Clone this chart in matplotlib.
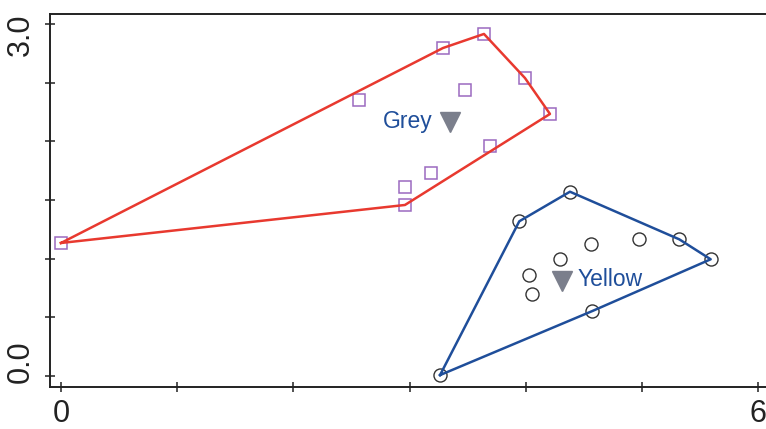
import numpy as np
import matplotlib
matplotlib.use("Agg")
import matplotlib.pyplot as plt
from matplotlib.transforms import offset_copy

plt.rcParams['font.family'] = ['Liberation Sans', 'DejaVu Sans']

# Group "Grey": point coordinates
grey_x = [0.00, 2.565, 3.287, 3.640, 3.993, 4.208, 3.477, 3.692, 3.184, 2.960, 2.960]
grey_y = [1.134, 2.353, 2.796, 2.916, 2.540, 2.234, 2.438, 1.961, 1.731, 1.611, 1.458]
grey_centroid = (3.344, 2.168)

# Group "Yellow": point coordinates
yellow_x = [3.262, 3.944, 4.380, 5.321, 5.591, 4.573, 4.564, 4.971, 4.291, 4.030, 4.053]
yellow_y = [0.008, 1.319, 1.571, 1.165, 0.995, 0.554, 1.123, 1.165, 0.995, 0.858, 0.697]
yellow_centroid = (4.314, 0.810)

x_ticks = [0, 1, 2, 3, 4, 5, 6]
x_ticklabels = ["0", "", "", "", "", "", "6"]
y_ticks = [0.0, 0.5, 1.0, 1.5, 2.0, 2.5, 3.0]
y_labelled = [0.0, 3.0]
y_labeltexts = ["0.0", "3.0"]


def convex_hull(xs, ys):
    pts = sorted(set(zip(xs, ys)))

    def cross(o, a, b):
        return (a[0] - o[0]) * (b[1] - o[1]) - (a[1] - o[1]) * (b[0] - o[0])

    lower, upper = [], []
    for p in pts:
        while len(lower) >= 2 and cross(lower[-2], lower[-1], p) <= 0:
            lower.pop()
        lower.append(p)
    for p in reversed(pts):
        while len(upper) >= 2 and cross(upper[-2], upper[-1], p) <= 0:
            upper.pop()
        upper.append(p)
    hull = lower[:-1] + upper[:-1]
    hull.append(hull[0])
    return [p[0] for p in hull], [p[1] for p in hull]


W, H = 766, 429
fig = plt.figure(figsize=(W / 100, H / 100), dpi=100)
left, right, top, bottom = 50, 800, 14, 387
ax = fig.add_axes([left / W, 1 - bottom / H, (right - left) / W, (bottom - top) / H])

px_per_x = 116.2
px_per_y = 117.3
x0 = -(61 - left) / px_per_x
ax.set_xlim(x0, x0 + (right - left) / px_per_x)
y0 = -(bottom - 376) / px_per_y
ax.set_ylim(y0, y0 + (bottom - top) / px_per_y)

red = "#e8392f"
blue = "#1f4e9a"
purple = "#9b6ac0"
tri_grey = "#7b7f8c"
ink = "#222222"

# Grey group
gx, gy = convex_hull(grey_x, grey_y)
ax.plot(grey_x, grey_y, linestyle="none", marker="s", markersize=9.2,
        markerfacecolor="none", markeredgecolor=purple, markeredgewidth=1.1, zorder=2)
ax.plot(gx, gy, color=red, linewidth=1.8, zorder=3)
ax.plot([grey_centroid[0]], [grey_centroid[1]], marker="v", markersize=14.5,
        color=tri_grey, linestyle="none", zorder=4)
ax.text(grey_centroid[0] - 0.15, grey_centroid[1], "Grey", color=blue, fontsize=16.5,
        ha="right", va="center", zorder=5)

# Yellow group
yx, yy = convex_hull(yellow_x, yellow_y)
ax.plot(yellow_x, yellow_y, linestyle="none", marker="o", markersize=9.4,
        markerfacecolor="none", markeredgecolor="#333333", markeredgewidth=1.0, zorder=2)
ax.plot(yx, yy, color=blue, linewidth=1.8, zorder=3)
ax.plot([yellow_centroid[0]], [yellow_centroid[1]], marker="v", markersize=14.5,
        color=tri_grey, linestyle="none", zorder=4)
ax.text(yellow_centroid[0] + 0.13, yellow_centroid[1] + 0.01, "Yellow", color=blue,
        fontsize=16.5, ha="left", va="center", zorder=5)

ax.set_xticks(x_ticks)
ax.set_xticklabels(x_ticklabels)
ax.set_yticks(y_ticks)
ax.set_yticklabels([])

# End labels of the y axis, kept inside the axis range
ytrans = ax.get_yaxis_transform()
shifts = [14, -11]
for val, txt, dy in zip(y_labelled, y_labeltexts, shifts):
    ax.text(-0.0387, val, txt, rotation=90, ha="center", va="center",
            fontsize=22, color=ink,
            transform=offset_copy(ytrans, fig=fig, y=dy, units="dots"))

for s in ["left", "bottom", "top"]:
    ax.spines[s].set_linewidth(1.4)
    ax.spines[s].set_color(ink)
ax.spines["right"].set_visible(False)

ax.tick_params(axis="both", direction="inout", length=7, width=1.1, colors=ink,
               labelsize=22, labelcolor=ink)
ax.tick_params(axis="x", pad=5)

fig.savefig("out.png", dpi=100)
